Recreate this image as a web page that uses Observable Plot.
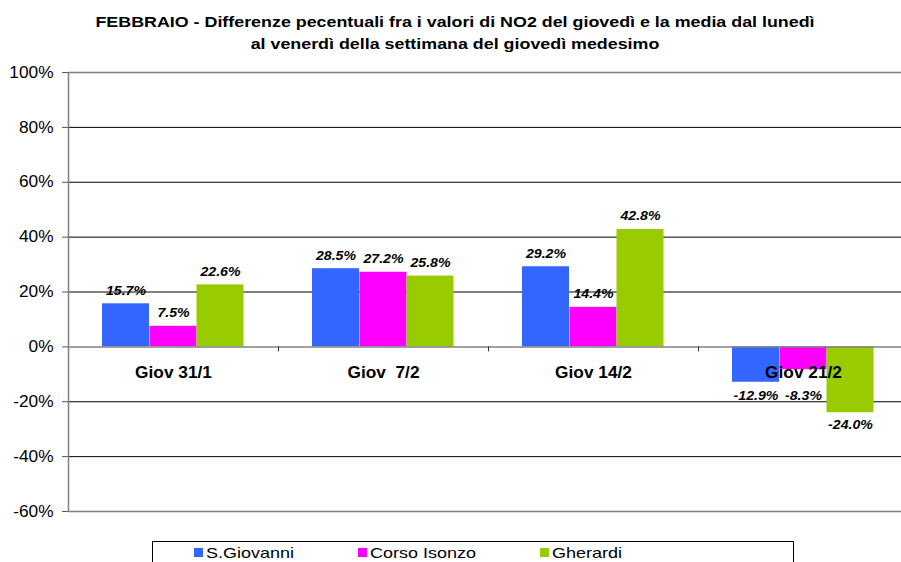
<!DOCTYPE html>
<html><head><meta charset="utf-8">
<script src="https://cdn.jsdelivr.net/npm/d3@7"></script>
<script src="https://cdn.jsdelivr.net/npm/@observablehq/plot@0.6"></script>
<style>
html,body{margin:0;padding:0;background:#fff;}
#wrap{position:relative;width:901px;height:562px;overflow:hidden;font-family:"Liberation Sans",Arial,sans-serif;color:#000;}
#title{position:absolute;left:0;top:11px;width:910px;text-align:center;font-weight:bold;font-size:15px;line-height:22px;transform:scaleX(1.19);transform-origin:455px 0;}
#chart{position:absolute;left:0;top:0;}
#chart svg text{white-space:pre;}
#legend{position:absolute;left:152px;top:541px;width:640px;height:40px;border:1px solid #000;background:#fff;}
.sw{position:absolute;top:6px;width:9px;height:9px;}
.lt{position:absolute;top:2px;font-size:15px;line-height:18px;white-space:nowrap;transform:scaleX(1.2);transform-origin:0 0;}
</style></head>
<body>
<div id="wrap">
  <div id="chart"></div>
  <div id="title"></div>
  <div id="legend"></div>
</div>
<script>
const titleLines = [
  "FEBBRAIO - Differenze pecentuali fra i valori di NO2 del giovedì e la media dal lunedì",
  "al venerdì della settimana del giovedì medesimo"
];
const categories = ["Giov 31/1", "Giov  7/2", "Giov 14/2", "Giov 21/2"];
const series = ["S.Giovanni", "Corso Isonzo", "Gherardi"];
const sGiovanni = [15.7, 28.5, 29.2, -12.9];
const corsoIsonzo = [7.5, 27.2, 14.4, -8.3];
const gherardi = [22.6, 25.8, 42.8, -24.0];
const yTicks = [-60, -40, -20, 0, 20, 40, 60, 80, 100];
const colors = ["#3366FF", "#FF00FF", "#99CC00"];

const values = [sGiovanni, corsoIsonzo, gherardi];
const rows = [];
series.forEach((s, si) => categories.forEach((c, ci) => rows.push({cat: c, series: s, si, value: values[si][ci]})));

const W = 901, H = 562;
const xLeft = 68, xRight = 908;
const step = (xRight - xLeft) / categories.length;
const barW = 47;
const inset = (step - barW) / 2;
const offsets = [-47.5, 0, 47];
const catLabelClear = -13.5; // negative labels kept below the category labels

document.getElementById("title").innerHTML = titleLines.join("<br>");

const barMarks = [];
const labelMarks = [];
const fmt = d => d.value.toFixed(1) + "%";
series.forEach((s, si) => {
  const data = rows.filter(d => d.si === si);
  barMarks.push(Plot.barY(data, {x: "cat", y: "value", fill: colors[si], dx: offsets[si], insetLeft: inset, insetRight: inset}));
  labelMarks.push(Plot.text(data.filter(d => d.value >= 0), {x: "cat", y: "value", text: fmt, dx: offsets[si], dy: -9, lineAnchor: "bottom", fontSize: 12, fontWeight: "bold", fontStyle: "italic", fill: "#000"}));
  labelMarks.push(Plot.text(data.filter(d => d.value < 0), {x: "cat", y: d => Math.min(d.value, catLabelClear), text: fmt, dx: offsets[si], dy: 8, lineAnchor: "top", fontSize: 12, fontWeight: "bold", fontStyle: "italic", fill: "#000"}));
});

const chart = Plot.plot({
  width: W, height: H,
  marginLeft: xLeft, marginRight: -4, marginTop: 72, marginBottom: 51,
  style: {fontFamily: "'Liberation Sans', Arial, sans-serif", background: "transparent", color: "#000"},
  x: {type: "band", domain: categories, range: [xLeft, xRight], padding: 0, axis: null},
  y: {domain: [-60, 100], axis: null, label: null},
  marks: [
    Plot.ruleY(yTicks.filter(d => d !== 0 && d !== -60 && d !== 100), {stroke: "#000", strokeWidth: 1}),
    ...barMarks,
    Plot.ruleY([0], {stroke: "#808080", strokeWidth: 1.5}),
    Plot.frame({stroke: "#808080", strokeWidth: 1.5}),
    Plot.ruleX(categories.slice(1), {x: d => d, y1: 0, y2: -1.8, dx: -step / 2, stroke: "#333"}),
    Plot.axisY({ticks: yTicks, tickFormat: d => d + "%", label: null, tickSize: 6, tickPadding: 9, fontSize: 16, stroke: "#555", fill: "#000"}),
    ...labelMarks,
    Plot.text(categories, {x: d => d, y: 0, text: d => d, dy: 20, lineAnchor: "top", fontSize: 16, fontWeight: "bold", fill: "#000"})
  ]
});
document.getElementById("chart").appendChild(chart);

// horizontal stretch of the texts, as in the reference
const stretch = {12: 1.18, 16: 1.08};
chart.querySelectorAll("text").forEach(t => {
  const fs = Math.round(parseFloat(getComputedStyle(t).fontSize));
  const s = stretch[fs];
  if (!s) return;
  const tr = t.getAttribute("transform") || "";
  const x = parseFloat(t.getAttribute("x") || 0), y = parseFloat(t.getAttribute("y") || 0);
  t.setAttribute("transform", `${tr} translate(${x},${y}) scale(${s},1) translate(${-x},${-y})`);
});

const legendSwatch = [41, 205, 387];
const legend = document.getElementById("legend");
series.forEach((s, i) => {
  const sw = document.createElement("div");
  sw.className = "sw";
  sw.style.left = legendSwatch[i] + "px";
  sw.style.background = colors[i];
  legend.appendChild(sw);
  const lt = document.createElement("div");
  lt.className = "lt";
  lt.style.left = (legendSwatch[i] + 12) + "px";
  lt.textContent = s;
  legend.appendChild(lt);
});
</script>
</body></html>
